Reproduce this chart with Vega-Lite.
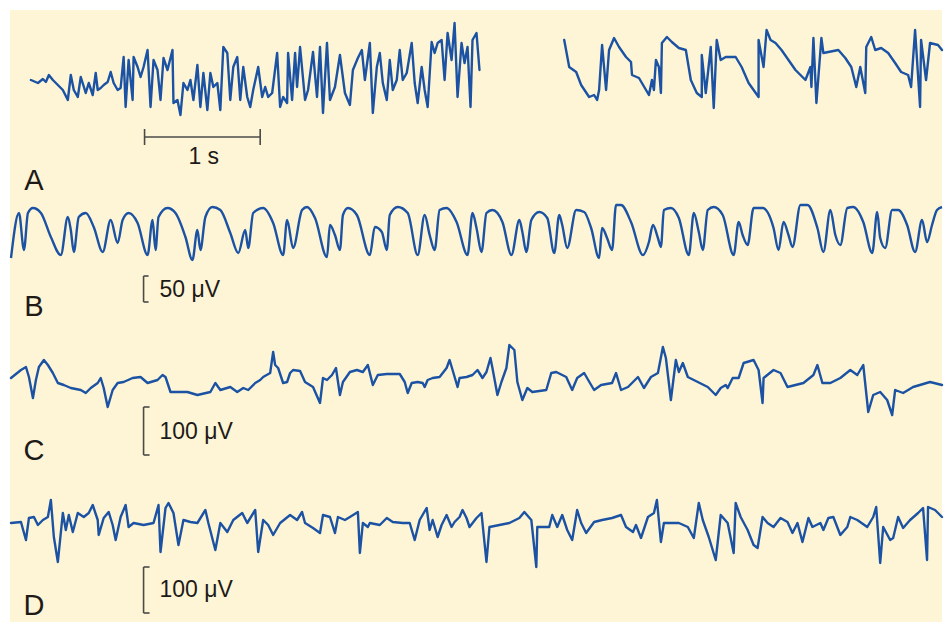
{
  "$schema": "https://vega.github.io/schema/vega-lite/v6.json",
  "width": 944,
  "height": 622,
  "autosize": {"type": "fit", "contains": "padding"},
  "padding": {"left": 9, "top": 10, "right": 0, "bottom": 0},
  "background": "white",
  "config": {"view": {"fill": "#FDF5D5", "stroke": null}},
  "datasets": {
    "traces": [
      {"s":"A1","x":30,"y":80},{"s":"A1","x":37,"y":83},{"s":"A1","x":42,"y":79},{"s":"A1","x":45,"y":82},{"s":"A1","x":48,"y":75},{"s":"A1","x":52,"y":80},{"s":"A1","x":57,"y":85},{"s":"A1","x":62,"y":90},{"s":"A1","x":67,"y":100},{"s":"A1","x":70,"y":75},{"s":"A1","x":73,"y":90},{"s":"A1","x":77,"y":97},{"s":"A1","x":80,"y":77},{"s":"A1","x":85,"y":93},{"s":"A1","x":88,"y":83},{"s":"A1","x":92,"y":95},{"s":"A1","x":95,"y":73},{"s":"A1","x":97,"y":90},{"s":"A1","x":100,"y":88},{"s":"A1","x":103,"y":85},{"s":"A1","x":107,"y":82},{"s":"A1","x":110,"y":72},{"s":"A1","x":113,"y":83},{"s":"A1","x":117,"y":90},{"s":"A1","x":120,"y":88},{"s":"A1","x":123,"y":57},{"s":"A1","x":125,"y":107},{"s":"A1","x":128,"y":60},{"s":"A1","x":132,"y":100},{"s":"A1","x":133,"y":57},{"s":"A1","x":137,"y":67},{"s":"A1","x":140,"y":77},{"s":"A1","x":143,"y":67},{"s":"A1","x":147,"y":50},{"s":"A1","x":150,"y":107},{"s":"A1","x":153,"y":60},{"s":"A1","x":157,"y":70},{"s":"A1","x":160,"y":100},{"s":"A1","x":163,"y":58},{"s":"A1","x":167,"y":70},{"s":"A1","x":172,"y":50},{"s":"A1","x":173,"y":103},{"s":"A1","x":177,"y":100},{"s":"A1","x":180,"y":115},{"s":"A1","x":183,"y":83},{"s":"A1","x":187,"y":90},{"s":"A1","x":190,"y":80},{"s":"A1","x":193,"y":100},{"s":"A1","x":197,"y":65},{"s":"A1","x":200,"y":107},{"s":"A1","x":203,"y":73},{"s":"A1","x":207,"y":110},{"s":"A1","x":210,"y":73},{"s":"A1","x":213,"y":87},{"s":"A1","x":217,"y":83},{"s":"A1","x":220,"y":110},{"s":"A1","x":223,"y":47},{"s":"A1","x":227,"y":53},{"s":"A1","x":230,"y":100},{"s":"A1","x":233,"y":67},{"s":"A1","x":237,"y":57},{"s":"A1","x":240,"y":100},{"s":"A1","x":243,"y":67},{"s":"A1","x":247,"y":97},{"s":"A1","x":250,"y":107},{"s":"A1","x":253,"y":90},{"s":"A1","x":258,"y":67},{"s":"A1","x":262,"y":97},{"s":"A1","x":265,"y":87},{"s":"A1","x":268,"y":97},{"s":"A1","x":272,"y":93},{"s":"A1","x":277,"y":53},{"s":"A1","x":280,"y":107},{"s":"A1","x":283,"y":97},{"s":"A1","x":287,"y":103},{"s":"A1","x":288,"y":53},{"s":"A1","x":292,"y":100},{"s":"A1","x":295,"y":53},{"s":"A1","x":297,"y":87},{"s":"A1","x":300,"y":47},{"s":"A1","x":305,"y":100},{"s":"A1","x":308,"y":90},{"s":"A1","x":313,"y":52},{"s":"A1","x":317,"y":97},{"s":"A1","x":320,"y":47},{"s":"A1","x":323,"y":113},{"s":"A1","x":327,"y":43},{"s":"A1","x":330,"y":100},{"s":"A1","x":335,"y":87},{"s":"A1","x":340,"y":55},{"s":"A1","x":345,"y":93},{"s":"A1","x":350,"y":105},{"s":"A1","x":353,"y":70},{"s":"A1","x":358,"y":58},{"s":"A1","x":362,"y":50},{"s":"A1","x":365,"y":80},{"s":"A1","x":370,"y":43},{"s":"A1","x":373,"y":113},{"s":"A1","x":377,"y":67},{"s":"A1","x":380,"y":53},{"s":"A1","x":383,"y":83},{"s":"A1","x":387,"y":100},{"s":"A1","x":390,"y":60},{"s":"A1","x":393,"y":90},{"s":"A1","x":397,"y":80},{"s":"A1","x":400,"y":50},{"s":"A1","x":403,"y":80},{"s":"A1","x":407,"y":73},{"s":"A1","x":412,"y":43},{"s":"A1","x":415,"y":83},{"s":"A1","x":418,"y":103},{"s":"A1","x":422,"y":67},{"s":"A1","x":425,"y":90},{"s":"A1","x":428,"y":107},{"s":"A1","x":432,"y":42},{"s":"A1","x":435,"y":53},{"s":"A1","x":438,"y":43},{"s":"A1","x":442,"y":40},{"s":"A1","x":445,"y":80},{"s":"A1","x":448,"y":33},{"s":"A1","x":452,"y":60},{"s":"A1","x":455,"y":23},{"s":"A1","x":458,"y":97},{"s":"A1","x":462,"y":43},{"s":"A1","x":465,"y":63},{"s":"A1","x":468,"y":47},{"s":"A1","x":471,"y":107},{"s":"A1","x":473,"y":40},{"s":"A1","x":477,"y":33},{"s":"A1","x":480,"y":70},
      {"s":"A2","x":565,"y":40},{"s":"A2","x":570,"y":67},{"s":"A2","x":577,"y":72},{"s":"A2","x":582,"y":85},{"s":"A2","x":590,"y":97},{"s":"A2","x":595,"y":95},{"s":"A2","x":598,"y":100},{"s":"A2","x":600,"y":90},{"s":"A2","x":603,"y":45},{"s":"A2","x":607,"y":90},{"s":"A2","x":610,"y":50},{"s":"A2","x":615,"y":38},{"s":"A2","x":620,"y":47},{"s":"A2","x":627,"y":57},{"s":"A2","x":632,"y":62},{"s":"A2","x":633,"y":75},{"s":"A2","x":640,"y":78},{"s":"A2","x":650,"y":95},{"s":"A2","x":653,"y":80},{"s":"A2","x":655,"y":90},{"s":"A2","x":657,"y":60},{"s":"A2","x":660,"y":67},{"s":"A2","x":662,"y":93},{"s":"A2","x":663,"y":43},{"s":"A2","x":668,"y":37},{"s":"A2","x":673,"y":42},{"s":"A2","x":680,"y":48},{"s":"A2","x":687,"y":50},{"s":"A2","x":692,"y":80},{"s":"A2","x":698,"y":93},{"s":"A2","x":703,"y":97},{"s":"A2","x":703,"y":55},{"s":"A2","x":707,"y":93},{"s":"A2","x":712,"y":47},{"s":"A2","x":715,"y":108},{"s":"A2","x":718,"y":40},{"s":"A2","x":722,"y":60},{"s":"A2","x":727,"y":57},{"s":"A2","x":737,"y":57},{"s":"A2","x":743,"y":67},{"s":"A2","x":750,"y":83},{"s":"A2","x":760,"y":97},{"s":"A2","x":760,"y":40},{"s":"A2","x":765,"y":67},{"s":"A2","x":768,"y":30},{"s":"A2","x":772,"y":40},{"s":"A2","x":777,"y":43},{"s":"A2","x":783,"y":50},{"s":"A2","x":790,"y":60},{"s":"A2","x":797,"y":70},{"s":"A2","x":807,"y":80},{"s":"A2","x":812,"y":67},{"s":"A2","x":813,"y":87},{"s":"A2","x":815,"y":38},{"s":"A2","x":818,"y":103},{"s":"A2","x":823,"y":38},{"s":"A2","x":825,"y":53},{"s":"A2","x":840,"y":50},{"s":"A2","x":847,"y":58},{"s":"A2","x":853,"y":67},{"s":"A2","x":858,"y":87},{"s":"A2","x":862,"y":67},{"s":"A2","x":867,"y":93},{"s":"A2","x":868,"y":47},{"s":"A2","x":873,"y":37},{"s":"A2","x":877,"y":50},{"s":"A2","x":883,"y":48},{"s":"A2","x":890,"y":53},{"s":"A2","x":897,"y":63},{"s":"A2","x":903,"y":72},{"s":"A2","x":910,"y":75},{"s":"A2","x":913,"y":87},{"s":"A2","x":917,"y":30},{"s":"A2","x":922,"y":107},{"s":"A2","x":923,"y":40},{"s":"A2","x":928,"y":80},{"s":"A2","x":932,"y":43},{"s":"A2","x":940,"y":45},{"s":"A2","x":944,"y":50},
      {"s":"C","x":10,"y":378},{"s":"C","x":20,"y":370},{"s":"C","x":25,"y":367},{"s":"C","x":28,"y":377},{"s":"C","x":32,"y":398},{"s":"C","x":35,"y":380},{"s":"C","x":38,"y":367},{"s":"C","x":43,"y":360},{"s":"C","x":47,"y":365},{"s":"C","x":52,"y":373},{"s":"C","x":57,"y":383},{"s":"C","x":63,"y":385},{"s":"C","x":70,"y":388},{"s":"C","x":80,"y":390},{"s":"C","x":85,"y":393},{"s":"C","x":90,"y":388},{"s":"C","x":97,"y":383},{"s":"C","x":100,"y":378},{"s":"C","x":103,"y":388},{"s":"C","x":107,"y":407},{"s":"C","x":112,"y":390},{"s":"C","x":117,"y":383},{"s":"C","x":123,"y":382},{"s":"C","x":132,"y":378},{"s":"C","x":140,"y":377},{"s":"C","x":147,"y":383},{"s":"C","x":157,"y":380},{"s":"C","x":162,"y":375},{"s":"C","x":165,"y":377},{"s":"C","x":170,"y":392},{"s":"C","x":187,"y":392},{"s":"C","x":197,"y":395},{"s":"C","x":210,"y":392},{"s":"C","x":215,"y":383},{"s":"C","x":220,"y":390},{"s":"C","x":230,"y":387},{"s":"C","x":237,"y":392},{"s":"C","x":243,"y":388},{"s":"C","x":248,"y":390},{"s":"C","x":255,"y":383},{"s":"C","x":260,"y":380},{"s":"C","x":263,"y":377},{"s":"C","x":270,"y":373},{"s":"C","x":273,"y":352},{"s":"C","x":275,"y":365},{"s":"C","x":278,"y":368},{"s":"C","x":283,"y":383},{"s":"C","x":287,"y":382},{"s":"C","x":290,"y":373},{"s":"C","x":293,"y":370},{"s":"C","x":300,"y":371},{"s":"C","x":305,"y":382},{"s":"C","x":313,"y":387},{"s":"C","x":320,"y":403},{"s":"C","x":323,"y":378},{"s":"C","x":327,"y":380},{"s":"C","x":332,"y":375},{"s":"C","x":336,"y":368},{"s":"C","x":340,"y":395},{"s":"C","x":343,"y":382},{"s":"C","x":350,"y":372},{"s":"C","x":357,"y":370},{"s":"C","x":363,"y":372},{"s":"C","x":368,"y":365},{"s":"C","x":373,"y":385},{"s":"C","x":378,"y":375},{"s":"C","x":387,"y":374},{"s":"C","x":400,"y":374},{"s":"C","x":405,"y":382},{"s":"C","x":408,"y":393},{"s":"C","x":412,"y":383},{"s":"C","x":418,"y":382},{"s":"C","x":423,"y":383},{"s":"C","x":425,"y":387},{"s":"C","x":428,"y":380},{"s":"C","x":433,"y":378},{"s":"C","x":440,"y":377},{"s":"C","x":447,"y":368},{"s":"C","x":450,"y":360},{"s":"C","x":453,"y":370},{"s":"C","x":458,"y":387},{"s":"C","x":460,"y":378},{"s":"C","x":467,"y":377},{"s":"C","x":473,"y":375},{"s":"C","x":478,"y":370},{"s":"C","x":483,"y":378},{"s":"C","x":487,"y":372},{"s":"C","x":491,"y":358},{"s":"C","x":493,"y":368},{"s":"C","x":498,"y":395},{"s":"C","x":502,"y":382},{"s":"C","x":507,"y":368},{"s":"C","x":510,"y":345},{"s":"C","x":515,"y":350},{"s":"C","x":518,"y":382},{"s":"C","x":523,"y":400},{"s":"C","x":528,"y":388},{"s":"C","x":533,"y":392},{"s":"C","x":547,"y":390},{"s":"C","x":552,"y":373},{"s":"C","x":557,"y":372},{"s":"C","x":567,"y":377},{"s":"C","x":573,"y":390},{"s":"C","x":578,"y":378},{"s":"C","x":585,"y":373},{"s":"C","x":592,"y":385},{"s":"C","x":595,"y":390},{"s":"C","x":602,"y":385},{"s":"C","x":613,"y":383},{"s":"C","x":617,"y":373},{"s":"C","x":622,"y":390},{"s":"C","x":629,"y":387},{"s":"C","x":639,"y":377},{"s":"C","x":645,"y":388},{"s":"C","x":652,"y":377},{"s":"C","x":659,"y":373},{"s":"C","x":664,"y":347},{"s":"C","x":667,"y":358},{"s":"C","x":672,"y":400},{"s":"C","x":677,"y":360},{"s":"C","x":680,"y":372},{"s":"C","x":684,"y":363},{"s":"C","x":689,"y":377},{"s":"C","x":699,"y":382},{"s":"C","x":709,"y":387},{"s":"C","x":717,"y":395},{"s":"C","x":722,"y":388},{"s":"C","x":727,"y":385},{"s":"C","x":729,"y":388},{"s":"C","x":734,"y":378},{"s":"C","x":740,"y":378},{"s":"C","x":745,"y":363},{"s":"C","x":755,"y":360},{"s":"C","x":760,"y":370},{"s":"C","x":764,"y":403},{"s":"C","x":765,"y":378},{"s":"C","x":775,"y":370},{"s":"C","x":782,"y":373},{"s":"C","x":789,"y":387},{"s":"C","x":805,"y":383},{"s":"C","x":815,"y":375},{"s":"C","x":819,"y":365},{"s":"C","x":824,"y":383},{"s":"C","x":832,"y":383},{"s":"C","x":842,"y":378},{"s":"C","x":852,"y":370},{"s":"C","x":859,"y":375},{"s":"C","x":865,"y":365},{"s":"C","x":870,"y":412},{"s":"C","x":875,"y":395},{"s":"C","x":882,"y":392},{"s":"C","x":889,"y":400},{"s":"C","x":894,"y":415},{"s":"C","x":897,"y":390},{"s":"C","x":905,"y":393},{"s":"C","x":915,"y":387},{"s":"C","x":932,"y":382},{"s":"C","x":944,"y":385},
      {"s":"D","x":10,"y":523},{"s":"D","x":20,"y":522},{"s":"D","x":25,"y":540},{"s":"D","x":28,"y":518},{"s":"D","x":33,"y":517},{"s":"D","x":37,"y":525},{"s":"D","x":42,"y":520},{"s":"D","x":47,"y":517},{"s":"D","x":50,"y":500},{"s":"D","x":53,"y":537},{"s":"D","x":57,"y":562},{"s":"D","x":62,"y":513},{"s":"D","x":65,"y":530},{"s":"D","x":68,"y":515},{"s":"D","x":72,"y":532},{"s":"D","x":77,"y":513},{"s":"D","x":83,"y":517},{"s":"D","x":88,"y":513},{"s":"D","x":92,"y":505},{"s":"D","x":97,"y":520},{"s":"D","x":98,"y":535},{"s":"D","x":103,"y":518},{"s":"D","x":108,"y":512},{"s":"D","x":112,"y":525},{"s":"D","x":115,"y":540},{"s":"D","x":120,"y":517},{"s":"D","x":125,"y":505},{"s":"D","x":128,"y":527},{"s":"D","x":133,"y":523},{"s":"D","x":143,"y":525},{"s":"D","x":153,"y":523},{"s":"D","x":158,"y":505},{"s":"D","x":160,"y":552},{"s":"D","x":165,"y":508},{"s":"D","x":168,"y":503},{"s":"D","x":173,"y":513},{"s":"D","x":178,"y":545},{"s":"D","x":183,"y":520},{"s":"D","x":190,"y":522},{"s":"D","x":197,"y":523},{"s":"D","x":205,"y":510},{"s":"D","x":208,"y":523},{"s":"D","x":215,"y":550},{"s":"D","x":220,"y":523},{"s":"D","x":227,"y":532},{"s":"D","x":233,"y":520},{"s":"D","x":242,"y":513},{"s":"D","x":247,"y":523},{"s":"D","x":255,"y":510},{"s":"D","x":258,"y":552},{"s":"D","x":263,"y":520},{"s":"D","x":268,"y":525},{"s":"D","x":273,"y":535},{"s":"D","x":280,"y":523},{"s":"D","x":290,"y":515},{"s":"D","x":297,"y":520},{"s":"D","x":302,"y":512},{"s":"D","x":305,"y":523},{"s":"D","x":313,"y":528},{"s":"D","x":320,"y":533},{"s":"D","x":323,"y":515},{"s":"D","x":330,"y":517},{"s":"D","x":335,"y":533},{"s":"D","x":338,"y":517},{"s":"D","x":345,"y":520},{"s":"D","x":350,"y":517},{"s":"D","x":358,"y":512},{"s":"D","x":360,"y":553},{"s":"D","x":363,"y":523},{"s":"D","x":368,"y":527},{"s":"D","x":370,"y":523},{"s":"D","x":380,"y":525},{"s":"D","x":387,"y":518},{"s":"D","x":393,"y":522},{"s":"D","x":403,"y":523},{"s":"D","x":410,"y":523},{"s":"D","x":415,"y":540},{"s":"D","x":420,"y":520},{"s":"D","x":427,"y":508},{"s":"D","x":430,"y":530},{"s":"D","x":433,"y":520},{"s":"D","x":438,"y":537},{"s":"D","x":442,"y":525},{"s":"D","x":447,"y":515},{"s":"D","x":452,"y":527},{"s":"D","x":455,"y":522},{"s":"D","x":460,"y":517},{"s":"D","x":463,"y":510},{"s":"D","x":467,"y":518},{"s":"D","x":470,"y":527},{"s":"D","x":477,"y":518},{"s":"D","x":482,"y":513},{"s":"D","x":487,"y":562},{"s":"D","x":490,"y":527},{"s":"D","x":500,"y":525},{"s":"D","x":510,"y":523},{"s":"D","x":520,"y":518},{"s":"D","x":525,"y":512},{"s":"D","x":532,"y":520},{"s":"D","x":537,"y":567},{"s":"D","x":538,"y":527},{"s":"D","x":550,"y":527},{"s":"D","x":553,"y":515},{"s":"D","x":558,"y":527},{"s":"D","x":563,"y":515},{"s":"D","x":568,"y":530},{"s":"D","x":573,"y":540},{"s":"D","x":578,"y":510},{"s":"D","x":582,"y":523},{"s":"D","x":587,"y":533},{"s":"D","x":595,"y":522},{"s":"D","x":603,"y":520},{"s":"D","x":613,"y":518},{"s":"D","x":622,"y":515},{"s":"D","x":627,"y":527},{"s":"D","x":634,"y":532},{"s":"D","x":637,"y":525},{"s":"D","x":642,"y":538},{"s":"D","x":649,"y":517},{"s":"D","x":655,"y":513},{"s":"D","x":658,"y":500},{"s":"D","x":662,"y":542},{"s":"D","x":665,"y":523},{"s":"D","x":680,"y":523},{"s":"D","x":689,"y":527},{"s":"D","x":695,"y":538},{"s":"D","x":700,"y":503},{"s":"D","x":704,"y":520},{"s":"D","x":710,"y":537},{"s":"D","x":717,"y":560},{"s":"D","x":722,"y":515},{"s":"D","x":729,"y":523},{"s":"D","x":735,"y":553},{"s":"D","x":737,"y":503},{"s":"D","x":742,"y":517},{"s":"D","x":749,"y":530},{"s":"D","x":755,"y":545},{"s":"D","x":759,"y":548},{"s":"D","x":764,"y":517},{"s":"D","x":769,"y":523},{"s":"D","x":775,"y":527},{"s":"D","x":782,"y":518},{"s":"D","x":789,"y":522},{"s":"D","x":794,"y":533},{"s":"D","x":799,"y":523},{"s":"D","x":804,"y":542},{"s":"D","x":810,"y":518},{"s":"D","x":814,"y":527},{"s":"D","x":822,"y":523},{"s":"D","x":825,"y":530},{"s":"D","x":830,"y":518},{"s":"D","x":835,"y":517},{"s":"D","x":842,"y":535},{"s":"D","x":849,"y":527},{"s":"D","x":852,"y":517},{"s":"D","x":859,"y":520},{"s":"D","x":869,"y":527},{"s":"D","x":875,"y":517},{"s":"D","x":878,"y":507},{"s":"D","x":882,"y":563},{"s":"D","x":885,"y":527},{"s":"D","x":892,"y":540},{"s":"D","x":895,"y":538},{"s":"D","x":900,"y":517},{"s":"D","x":905,"y":528},{"s":"D","x":912,"y":520},{"s":"D","x":920,"y":513},{"s":"D","x":925,"y":508},{"s":"D","x":929,"y":560},{"s":"D","x":930,"y":507},{"s":"D","x":937,"y":510},{"s":"D","x":944,"y":517}
    ],
    "traceB": [
      {"x":10,"y":258},{"x":18,"y":213},{"x":23,"y":250},{"x":27,"y":213},{"x":32,"y":208},{"x":40,"y":213},{"x":50,"y":237},{"x":60,"y":255},{"x":67,"y":217},{"x":70,"y":230},{"x":73,"y":252},{"x":78,"y":217},{"x":85,"y":213},{"x":93,"y":227},{"x":102,"y":252},{"x":110,"y":220},{"x":117,"y":243},{"x":122,"y":220},{"x":128,"y":213},{"x":137,"y":223},{"x":147,"y":255},{"x":152,"y":220},{"x":155,"y":250},{"x":158,"y":217},{"x":167,"y":208},{"x":175,"y":213},{"x":185,"y":237},{"x":192,"y":260},{"x":197,"y":230},{"x":200,"y":250},{"x":205,"y":217},{"x":212,"y":207},{"x":220,"y":210},{"x":230,"y":233},{"x":238,"y":253},{"x":245,"y":230},{"x":248,"y":248},{"x":253,"y":213},{"x":263,"y":208},{"x":273,"y":223},{"x":283,"y":255},{"x":287,"y":220},{"x":293,"y":248},{"x":302,"y":210},{"x":307,"y":207},{"x":315,"y":218},{"x":327,"y":257},{"x":330,"y":225},{"x":335,"y":235},{"x":340,"y":250},{"x":343,"y":215},{"x":348,"y":208},{"x":357,"y":215},{"x":370,"y":255},{"x":375,"y":227},{"x":382,"y":232},{"x":387,"y":250},{"x":390,"y":215},{"x":398,"y":207},{"x":408,"y":213},{"x":418,"y":255},{"x":425,"y":215},{"x":430,"y":235},{"x":435,"y":250},{"x":440,"y":210},{"x":447,"y":208},{"x":457,"y":222},{"x":468,"y":255},{"x":473,"y":213},{"x":477,"y":228},{"x":482,"y":252},{"x":487,"y":213},{"x":493,"y":210},{"x":503,"y":222},{"x":512,"y":255},{"x":520,"y":220},{"x":523,"y":232},{"x":527,"y":252},{"x":532,"y":220},{"x":540,"y":212},{"x":548,"y":218},{"x":555,"y":253},{"x":560,"y":215},{"x":563,"y":225},{"x":568,"y":248},{"x":577,"y":210},{"x":585,"y":212},{"x":592,"y":228},{"x":600,"y":258},{"x":603,"y":228},{"x":608,"y":238},{"x":613,"y":250},{"x":617,"y":205},{"x":622,"y":205},{"x":632,"y":222},{"x":644,"y":255},{"x":650,"y":242},{"x":654,"y":225},{"x":659,"y":238},{"x":662,"y":247},{"x":665,"y":210},{"x":672,"y":208},{"x":680,"y":218},{"x":690,"y":255},{"x":695,"y":213},{"x":700,"y":232},{"x":704,"y":250},{"x":709,"y":210},{"x":715,"y":207},{"x":724,"y":215},{"x":735,"y":255},{"x":740,"y":222},{"x":744,"y":235},{"x":749,"y":245},{"x":755,"y":208},{"x":764,"y":208},{"x":775,"y":228},{"x":780,"y":250},{"x":785,"y":222},{"x":790,"y":235},{"x":794,"y":247},{"x":802,"y":205},{"x":809,"y":205},{"x":819,"y":228},{"x":825,"y":252},{"x":832,"y":210},{"x":837,"y":235},{"x":842,"y":245},{"x":849,"y":208},{"x":855,"y":207},{"x":865,"y":222},{"x":874,"y":253},{"x":879,"y":212},{"x":882,"y":238},{"x":887,"y":248},{"x":894,"y":210},{"x":900,"y":210},{"x":909,"y":225},{"x":917,"y":252},{"x":924,"y":220},{"x":929,"y":242},{"x":934,"y":225},{"x":939,"y":210},{"x":944,"y":207}
    ],
    "bars": [
      {"x":144,"x2":260,"y":137,"y2":137},{"x":144,"x2":144,"y":129,"y2":145},{"x":260,"x2":260,"y":129,"y2":145},
      {"x":143,"x2":143,"y":276,"y2":302},{"x":143,"x2":148,"y":276,"y2":276},{"x":143,"x2":148,"y":302,"y2":302},
      {"x":143,"x2":143,"y":407,"y2":455},{"x":143,"x2":149,"y":407,"y2":407},{"x":143,"x2":149,"y":455,"y2":455},
      {"x":143,"x2":143,"y":567,"y2":613},{"x":143,"x2":149,"y":567,"y2":567},{"x":143,"x2":149,"y":613,"y2":613}
    ],
    "letters": [
      {"t":"A","x":33,"y":181},{"t":"B","x":33,"y":307},{"t":"C","x":33,"y":451},{"t":"D","x":33,"y":606}
    ],
    "scaletext": [
      {"t":"1 s","x":188,"y":157},{"t":"50 μV","x":159,"y":290},{"t":"100 μV","x":159,"y":432},{"t":"100 μV","x":159,"y":590}
    ]
  },
  "encoding": {
    "x": {"field": "x", "type": "quantitative", "scale": {"domain": [9, 944], "nice": false, "zero": false}, "axis": null},
    "y": {"field": "y", "type": "quantitative", "scale": {"domain": [10, 622], "nice": false, "zero": false, "reverse": true}, "axis": null}
  },
  "layer": [
    {
      "data": {"name": "traces"},
      "mark": {"type": "line", "color": "#1B52A3", "strokeWidth": 2.4, "strokeJoin": "round", "strokeCap": "round"},
      "encoding": {"detail": {"field": "s"}, "order": {"value": null}}
    },
    {
      "data": {"name": "traceB"},
      "mark": {"type": "line", "color": "#1B52A3", "strokeWidth": 2.4, "interpolate": "monotone", "strokeJoin": "round"},
      "encoding": {}
    },
    {
      "data": {"name": "bars"},
      "mark": {"type": "rule", "color": "#4A4A48", "strokeWidth": 1.6},
      "encoding": {"x2": {"field": "x2"}, "y2": {"field": "y2"}}
    },
    {
      "data": {"name": "letters"},
      "mark": {"type": "text", "font": "Liberation Sans", "fontSize": 29, "color": "#1E1A18", "align": "center", "baseline": "middle"},
      "encoding": {"text": {"field": "t"}}
    },
    {
      "data": {"name": "scaletext"},
      "mark": {"type": "text", "font": "Liberation Sans", "fontSize": 23, "color": "#1E1A18", "align": "left", "baseline": "middle"},
      "encoding": {"text": {"field": "t"}}
    }
  ]
}
